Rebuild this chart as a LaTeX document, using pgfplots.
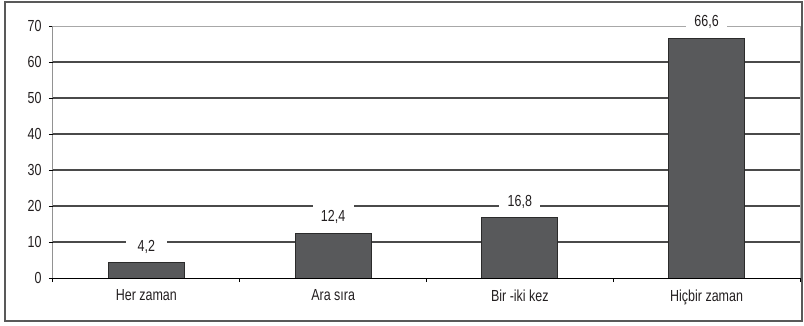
\documentclass[border=0pt]{standalone}
\usepackage{pgfplots}
\pgfplotsset{compat=1.18}
\usepackage{fontspec}
\setmainfont[FakeStretch=0.78]{Liberation Sans}
\definecolor{barfill}{HTML}{58595B}
\definecolor{baredge}{HTML}{2B2B2B}
\definecolor{gridc}{HTML}{4A4A4A}
\definecolor{framec}{HTML}{A8A8A8}
\definecolor{textc}{HTML}{231F20}
\begin{document}
\begin{tikzpicture}[font=\fontsize{16}{19}\selectfont]
\useasboundingbox (-53pt,-47pt) rectangle (751pt,278pt);
\draw[draw=black!65, line width=1.3pt] (-48pt,-43pt) rectangle (749pt,276pt);
\begin{axis}[
  at={(0,0)}, anchor=south west,
  scale only axis, width=747pt, height=252pt,
  xmin=-0.5, xmax=3.5, ymin=0, ymax=70,
  ybar, bar width=76pt,
  axis line style={framec, line width=1pt},
  tick pos=left, tick align=outside, major tick length=4pt,
  xtick={0,1,2,3},
  xticklabels={Her zaman, Ara sıra, Bir -iki kez, Hiçbir zaman},
  xtick style={draw=none},
  extra x ticks={-0.5,0.5,1.5,2.5,3.5},
  extra x tick labels={},
  extra x tick style={xtick style={draw=black, line width=1pt}},
  ytick={0,10,...,70},
  ytick style={draw=black, line width=1pt},
  extra y ticks={10,20,...,60},
  extra y tick labels={},
  extra y tick style={grid=major, major grid style={gridc, line width=1.3pt}},
  /pgf/number format/assume math mode=true,
  tick label style={text=textc},
  xticklabel style={yshift=-4pt},
  yticklabel style={xshift=-4pt},
  nodes near coords={\pgfmathprintnumber[fixed, fixed zerofill, precision=1, use comma]{\pgfplotspointmeta}},
  every node near coord/.append style={fill=white, anchor=center, yshift=16pt,
    minimum height=30pt, minimum width=41pt, inner sep=0pt, text=textc},
]
\addplot[fill=barfill, draw=baredge, line width=1pt] coordinates {
  (0,4.2) (1,12.4) (2,16.8) (3,66.6)
};
\draw[black, line width=1pt] (rel axis cs:0,1) -- (rel axis cs:0,0) -- (rel axis cs:1,0);
\end{axis}
\end{tikzpicture}
\end{document}
